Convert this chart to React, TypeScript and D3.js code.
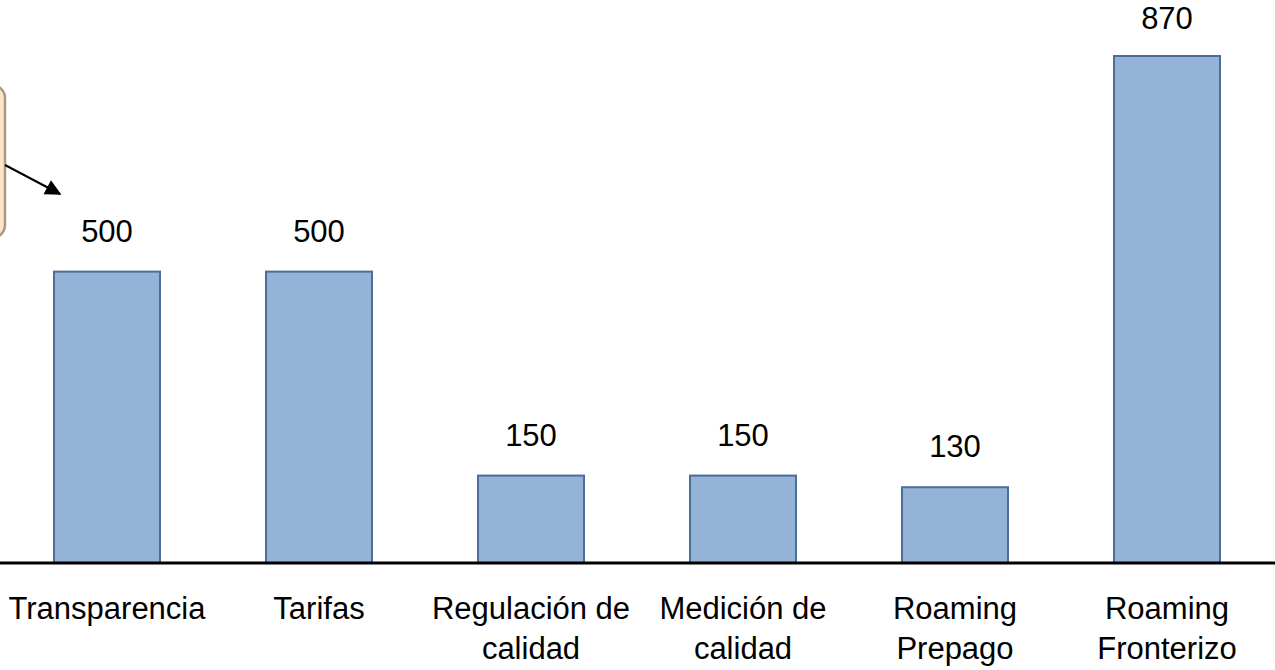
import React from 'react';
import * as d3 from 'd3';

const categories = [
  ['Transparencia'],
  ['Tarifas'],
  ['Regulación de', 'calidad'],
  ['Medición de', 'calidad'],
  ['Roaming', 'Prepago'],
  ['Roaming', 'Fronterizo'],
];
const values = [500, 500, 150, 150, 130, 870];

const W = 1275;
const H = 670;
const baseY = 563;

export default function App() {
  const x = d3.scaleBand<number>()
    .domain(d3.range(values.length))
    .range([1, 1273])
    .paddingInner(0.5)
    .paddingOuter(0.25);

  const y = d3.scaleLinear()
    .domain([0, 870])
    .range([baseY, 56]);

  const font = '"Liberation Sans", Arial, sans-serif';

  return (
    <svg width={W} height={H} style={{ position: 'absolute', left: 0, top: 0, background: '#fff' }}>
      <defs>
        <marker id="arrow" viewBox="0 0 10 10" refX="9" refY="5" markerWidth="9" markerHeight="8" orient="auto">
          <path d="M0,0 L10,5 L0,10 z" fill="#000" />
        </marker>
      </defs>

      {/* callout box, mostly cut off at the left edge */}
      <rect x={-60} y={85} width={65} height={153} rx={13} fill="#FCE6C3" stroke="#A89B82" strokeWidth={2.5} />
      <line x1={5} y1={165} x2={60} y2={194} stroke="#000" strokeWidth={2} markerEnd="url(#arrow)" />

      {values.map((v, i) => (
        <g key={i}>
          <rect
            x={x(i)}
            y={y(v)}
            width={x.bandwidth()}
            height={baseY - y(v)}
            fill="#95B3D7"
            stroke="#4A6F9C"
            strokeWidth={2}
          />
          <text
            x={x(i)! + x.bandwidth() / 2}
            y={Math.max(y(v) - 30, 29)}
            textAnchor="middle"
            fontFamily={font}
            fontSize={31}
            fill="#000"
          >
            {v}
          </text>
          <text
            x={x(i)! + x.bandwidth() / 2}
            y={619}
            textAnchor="middle"
            fontFamily={font}
            fontSize={31}
            fill="#000"
          >
            {categories[i].map((line, j) => (
              <tspan key={j} x={x(i)! + x.bandwidth() / 2} dy={j === 0 ? 0 : 40}>{line}</tspan>
            ))}
          </text>
        </g>
      ))}

      <line x1={0} x2={W} y1={baseY} y2={baseY} stroke="#000" strokeWidth={3} />
    </svg>
  );
}
